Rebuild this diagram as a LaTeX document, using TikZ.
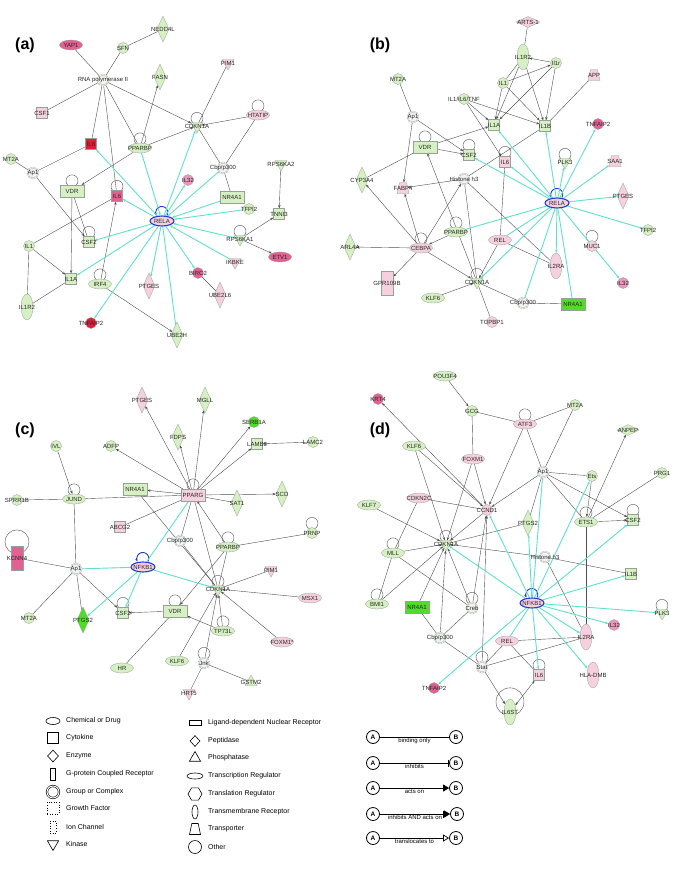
\documentclass[tikz,border=0pt]{standalone}
\usepackage{fontspec}
\setmainfont{Liberation Sans}
\usetikzlibrary{arrows.meta,shapes.geometric}
\pgfdeclarelayer{background}
\pgfsetlayers{background,main}
\definecolor{cvert}{RGB}{214,240,196}
\definecolor{cvif}{RGB}{80,220,40}
\definecolor{crose}{RGB}{246,208,222}
\definecolor{crosem}{RGB}{236,150,186}
\definecolor{crosef}{RGB}{228,96,146}
\definecolor{crouge}{RGB}{224,28,56}
\definecolor{cblanc}{RGB}{244,244,244}
\definecolor{cbleu}{RGB}{30,60,210}
\definecolor{ccyan}{RGB}{95,225,205}
\definecolor{cgris}{RGB}{80,80,80}
\definecolor{cbord}{RGB}{150,162,150}

\begin{document}
\begin{tikzpicture}[x=1pt, y=1pt, >={Stealth[length=3.2pt,width=2.4pt]},
  lbl/.style={font=\fontsize{6}{7}\selectfont, inner sep=0pt, text=black!85},
  lb/.style={label={[lbl]center:#1}},
  nd/.style={draw=cbord, line width=0.3pt, inner sep=0pt, fill=#1},
  tr/.style={nd=#1, ellipse, minimum width=23pt, minimum height=10pt},
  ot/.style={nd=#1, circle, minimum size=11pt},
  gp/.style={nd=cblanc, circle, minimum size=11pt, double=cblanc, double distance=0.7pt},
  cy/.style={nd=#1, rectangle, minimum size=11pt},
  lr/.style={nd=#1, rectangle, minimum width=24pt, minimum height=12pt},
  en/.style={nd=#1, diamond, minimum width=12pt, minimum height=26pt},
  ki/.style={nd=#1, regular polygon, regular polygon sides=3, shape border rotate=180, minimum size=14pt},
  ph/.style={nd=#1, regular polygon, regular polygon sides=3, minimum size=14pt},
  tm/.style={nd=#1, ellipse, minimum width=12pt, minimum height=26pt},
  gc/.style={nd=#1, rectangle, minimum width=12pt, minimum height=24pt},
  tp/.style={nd=#1, inner sep=1pt, trapezium, trapezium stretches=true, trapezium left angle=70, trapezium right angle=70, minimum width=12pt, minimum height=11pt},
  nk/.style={nd=crose, ellipse, draw=cbleu, line width=1.1pt, minimum width=24pt, minimum height=10pt},
  lnk/.style={cgris, line width=0.4pt},
  nf/.style={ccyan, line width=0.9pt},
  lp/.style={cgris, line width=0.4pt},
  lpb/.style={cbleu, line width=0.9pt, ->},
  pan/.style={font=\fontsize{16}{18}\selectfont\bfseries, inner sep=0pt},
  lgs/.style={draw=black, line width=0.6pt, inner sep=0pt, fill=white},
  lgt/.style={anchor=west, inner sep=0pt, font=\fontsize{7}{8}\selectfont},
  abn/.style={circle, draw=black, line width=0.8pt, minimum size=13pt, inner sep=0pt, fill=white, font=\fontsize{6.5}{7}\selectfont\bfseries},
  leg/.style={black, line width=0.7pt},
  lgl/.style={below=0.8pt, inner sep=0pt, font=\fontsize{6}{7}\selectfont}]
\useasboundingbox (0,0) rectangle (685,-876);

% (a)
\node[pan] (pa) at (25,-45) {(a)};
\node[tr=crosef, lb=YAP1] (aYAP1) at (71,-45) {};
\node[ot=cvert, lb=SFN] (aSFN) at (123,-48) {};
\node[en=cvert, lb=NEDD4L] (aNEDD) at (163,-29) {};
\node[gp, lb=RNA polymerase II] (aRNA) at (103,-80) {};
\node[en=cvert, lb=FASN] (aFASN) at (160,-77) {};
\node[ki=crose, lb=PIM1] (aPIM1) at (228,-63) {};
\node[cy=crose, lb=CSF1] (aCSF1) at (42,-113) {};
\node[tr=crose, lb=HTATIP] (aHTATIP) at (258,-115) {};
\node[ki=cvert, lb=CDKN1A] (aCDKN) at (197,-126) {};
\node[cy=crouge, lb=IL8] (aIL8) at (91,-144) {};
\node[tr=cvert, lb=PPARBP] (aPPARBP) at (140,-148) {};
\node[ot=cvert, lb=MT2A] (aMT2A) at (11,-159) {};
\node[gp, lb=Ap1] (aAp1) at (33,-173) {};
\node[gp, lb=Cbp/p300] (aCBP) at (223,-168) {};
\node[ki=cvert, lb=RPS6KA2] (aRPS6KA2) at (281,-164) {};
\node[lr=cvert, lb=VDR] (aVDR) at (72,-191) {};
\node[cy=crosef, lb=IL6] (aIL6) at (117,-196) {};
\node[ot=crosem, lb=IL32] (aIL32) at (188,-180) {};
\node[lr=cvert, lb=NR4A1] (aNR4A1) at (232,-197) {};
\node[ot=cvert, lb=TFPI2] (aTFPI2) at (249,-209) {};
\node[cy=cvert, lb=TNNI3] (aTNNI3) at (279,-214) {};
\node[nk, lb=RELA] (aRELA) at (162,-221) {};
\node[cy=cvert, lb=CSF2] (aCSF2) at (89,-242) {};
\node[ot=cvert, lb=IL1] (aIL1) at (29,-246) {};
\node[ki=cvert, lb=RPS6KA1] (aRPS6KA1) at (240,-239) {};
\node[tr=crosef, lb=ETV1] (aETV1) at (280,-257) {};
\node[ki=crose, lb=IKBKE] (aIKBKE) at (235,-262) {};
\node[cy=cvert, lb=IL1A] (aIL1A) at (71,-279) {};
\node[tr=cvert, lb=IRF4] (aIRF4) at (100,-284) {};
\node[en=crose, lb=PTGES] (aPTGES) at (149,-286) {};
\node[ot=crosef, lb=BIRC2] (aBIRC2) at (198,-273) {};
\node[en=crose, lb=UBE2L6] (aUBE2L6) at (220,-295) {};
\node[tm=cvert, lb=IL1R2] (aIL1R2) at (27,-307) {};
\node[ot=crouge, lb=TNFAIP2] (aTNFAIP2) at (91,-323) {};
\node[en=cvert, lb=UBE2H] (aUBE2H) at (177,-335) {};

% (b)
\node[pan] (pb) at (380,-45) {(b)};
\node[nd=crose, diamond, minimum width=24pt, minimum height=11pt, lb=ARTS-1] (bARTS) at (528,-22) {};
\node[tm=cvert, lb=IL1R2] (bIL1R2) at (523,-57) {};
\node[ot=cvert, lb=Il1r] (bIl1r) at (556,-63) {};
\node[tp=crose, lb=APP] (bAPP) at (594,-75) {};
\node[ot=cvert, lb=MT2A] (bMT2A) at (398,-79) {};
\node[ot=cvert, lb=IL1] (bIL1) at (503,-83) {};
\node[ot=cvert, lb=IL1/IL6/TNF] (bIL1TNF) at (464,-99) {};
\node[gp, lb=Ap1] (bAp1) at (413,-117) {};
\node[cy=cvert, lb=IL1A] (bIL1A) at (494,-125) {};
\node[cy=cvert, lb=IL1B] (bIL1B) at (545,-126) {};
\node[ot=crosef, lb=TNFAIP2] (bTNFAIP2) at (598,-124) {};
\node[lr=cvert, lb=VDR] (bVDR) at (425,-147) {};
\node[cy=cvert, lb=CSF2] (bCSF2) at (469,-155) {};
\node[cy=crose, lb=IL6] (bIL6) at (505,-162) {};
\node[ki=cvert, lb=PLK3] (bPLK3) at (565,-162) {};
\node[tp=crose, lb=SAA1] (bSAA1) at (615,-161) {};
\node[en=cvert, lb=CYP3A4] (bCYP3A4) at (362,-180) {};
\node[tp=crose, lb=FABP4] (bFABP4) at (403,-188) {};
\node[gp, lb=Histone h3] (bHIST) at (464,-179) {};
\node[nk, lb=RELA] (bRELA) at (557,-203) {};
\node[en=crose, lb=PTGES] (bPTGES) at (623,-196) {};
\node[tr=cvert, lb=PPARBP] (bPPARBP) at (456,-232) {};
\node[tr=crose, lb=CEBPA] (bCEBPA) at (421,-248) {};
\node[en=cvert, lb=ARL4A] (bARL4A) at (350,-247) {};
\node[tr=crose, lb=REL] (bREL) at (500,-240) {};
\node[ot=crose, lb=MUC1] (bMUC1) at (592,-246) {};
\node[ot=cvert, lb=TFPI2] (bTFPI2) at (648,-230) {};
\node[tm=crose, lb=IL2RA] (bIL2RA) at (556,-266) {};
\node[ot=crosem, lb=IL32] (bIL32) at (623,-283) {};
\node[gc=crose, lb=GPR109B] (bGPR) at (387,-283) {};
\node[ki=cvert, lb=CDKN1A] (bCDKN) at (477,-282) {};
\node[tr=cvert, lb=KLF6] (bKLF6) at (433,-298) {};
\node[gp, lb=Cbp/p300] (bCBP) at (523,-303) {};
\node[lr=cvif, lb=NR4A1] (bNR4A1) at (573,-304) {};
\node[ot=crose, lb=TOPBP1] (bTOPBP1) at (492,-322) {};

% (c)
\node[pan] (pc) at (25,-430) {(c)};
\node[en=crose, lb=PTGES] (cPTGES) at (142,-400) {};
\node[en=cvert, lb=MGLL] (cMGLL) at (205,-400) {};
\node[ot=cvif, lb=SERB1A] (cSERB) at (254,-422) {};
\node[en=cvert, lb=FDPS] (cFDPS) at (178,-437) {};
\node[cy=cvert, lb=LAMB3] (cLAMB3) at (257,-444) {};
\node[ot=cvert, lb=LAMC2] (cLAMC2) at (313,-442) {};
\node[ot=cvert, lb=IVL] (cIVL) at (56,-446) {};
\node[ot=cvert, lb=ADFP] (cADFP) at (111,-446) {};
\node[lr=cvert, lb=NR4A1] (cNR4A1) at (135,-489) {};
\node[lr=crose, lb=PPARG] (cPPARG) at (193,-495) {};
\node[en=cvert, lb=SAT1] (cSAT1) at (237,-503) {};
\node[en=cvert, lb=SCD] (cSCD) at (282,-494) {};
\node[ot=cvert, lb=SPRR1B] (cSPRR) at (17,-500) {};
\node[tr=cvert, lb=JUND] (cJUND) at (74,-499) {};
\node[cy=crose, lb=ABCG2] (cABCG2) at (120,-527) {};
\node[gp, lb=Cbp/p300] (cCBP) at (180,-541) {};
\node[tr=cvert, lb=PPARBP] (cPPARBP) at (228,-547) {};
\node[ot=cvert, lb=PRNP] (cPRNP) at (312,-533) {};
\node[gc=crosef, lb=KCNN4] (cKCNN4) at (17,-558) {};
\node[gp, lb=Ap1] (cAp1) at (76,-569) {};
\node[nk, lb=NFKB1] (cNFKB1) at (143,-567) {};
\node[ki=cvert, lb=CDKN1A] (cCDKN) at (218,-589) {};
\node[ki=crose, lb=PIM1] (cPIM1) at (271,-570) {};
\node[tr=crose, lb=MSX1] (cMSX1) at (310,-598) {};
\node[ot=cvert, lb=MT2A] (cMT2A) at (29,-618) {};
\node[en=cvif, lb=PTGS2] (cPTGS2) at (83,-620) {};
\node[cy=cvert, lb=CSF2] (cCSF2) at (123,-613) {};
\node[lr=cvert, lb=VDR] (cVDR) at (175,-611) {};
\node[tr=cvert, lb=TP73L] (cTP73L) at (223,-631) {};
\node[tr=crose, lb=FOXM1*] (cFOXM1) at (282,-642) {};
\node[tr=cvert, lb=HR] (cHR) at (122,-668) {};
\node[tr=cvert, lb=KLF6] (cKLF6) at (177,-661) {};
\node[gp, lb=Jnk] (cJnk) at (204,-663) {};
\node[ph=cvert, lb=GSTM2] (cGSTM2) at (251,-682) {};
\node[ki=crose, lb=HRT5] (cHRT5) at (189,-693) {};

% (d)
\node[pan] (pd) at (380,-430) {(d)};
\node[tr=cvert, lb=POU3F4] (dPOU3F4) at (445,-376) {};
\node[ot=crosef, lb=KRT4] (dKRT4) at (378,-399) {};
\node[ot=cvert, lb=GCG] (dGCG) at (472,-411) {};
\node[tr=crose, lb=ATF3] (dATF3) at (525,-424) {};
\node[ot=cvert, lb=MT2A] (dMT2A) at (575,-405) {};
\node[nd=cvert, diamond, minimum width=22pt, minimum height=11pt, lb=ANPEP] (dANPEP) at (628,-430) {};
\node[tr=cvert, lb=KLF6] (dKLF6) at (414,-446) {};
\node[tr=crose, lb=FOXM1] (dFOXM1) at (473,-459) {};
\node[gp, lb=Ap1] (dAp1) at (543,-472) {};
\node[ot=cvert, lb=Ets] (dEts) at (592,-476) {};
\node[ot=cvert, lb=PRG1] (dPRG1) at (662,-473) {};
\node[tr=crose, lb=CDKN2C] (dCDKN2C) at (419,-498) {};
\node[tr=cvert, lb=KLF7] (dKLF7) at (369,-505) {};
\node[ot=crose, lb=CCND1] (dCCND1) at (487,-510) {};
\node[en=cvert, lb=PTGS2] (dPTGS2) at (528,-523) {};
\node[tr=cvert, lb=ETS1] (dETS1) at (586,-522) {};
\node[cy=cvert, lb=CSF2] (dCSF2) at (633,-520) {};
\node[ki=cvert, lb=CDKN1A] (dCDKN) at (446,-544) {};
\node[tr=cvert, lb=MLL] (dMLL) at (393,-553) {};
\node[gp, lb=Histone h3] (dHIST) at (545,-557) {};
\node[cy=cvert, lb=IL1B] (dIL1B) at (631,-574) {};
\node[nk, lb=NFKB1] (dNFKB1) at (532,-603) {};
\node[tr=cvert, lb=BMI1] (dBMI1) at (377,-604) {};
\node[lr=cvif, lb=NR4A1] (dNR4A1) at (417,-607) {};
\node[gp, lb=Creb] (dCreb) at (472,-608) {};
\node[ki=cvert, lb=PLK3] (dPLK3) at (662,-613) {};
\node[ot=crosem, lb=IL32] (dIL32) at (614,-625) {};
\node[tm=crose, lb=IL2RA] (dIL2RA) at (586,-637) {};
\node[gp, lb=Cbp/p300] (dCBP) at (440,-638) {};
\node[tr=crose, lb=REL] (dREL) at (507,-641) {};
\node[gp, lb=Stat] (dStat) at (482,-667) {};
\node[cy=crose, lb=IL6] (dIL6) at (539,-675) {};
\node[tm=crose, lb=HLA-DMB] (dHLA) at (593,-675) {};
\node[ot=crosef, lb=TNFAIP2] (dTNFAIP2) at (434,-688) {};
\node[tm=cvert, lb=IL6ST] (dIL6ST) at (510,-712) {};

\begin{pgfonlayer}{background}
\fill[white] (0,0) rectangle (685,-876);
% self loops
\foreach \n in {aHTATIP,aCDKN,aPPARBP,aVDR,aIL6,aCSF2,aRPS6KA1,aIRF4,bVDR,bCSF2,bIL6,bPLK3,bPPARBP,bCEBPA,bMUC1,bCDKN,cPPARG,cJUND,cPPARBP,cPRNP,cCDKN,cCSF2,cVDR,cTP73L,cJnk,dATF3,dETS1,dCSF2,dCDKN,dMLL,dBMI1,dCreb,dPLK3,dStat,dIL6}
  \draw[lp] ([yshift=4pt]\n.north) circle (6pt);
\draw[lp] ([yshift=4pt]cKCNN4.north) circle (12pt);
\draw[lp] ([yshift=-3pt]dIL6ST.north) circle (14pt);
\foreach \n in {aRELA,bRELA,cNFKB1,dNFKB1}
  \draw[lpb] ([xshift=5pt]\n.north) arc[start angle=-30,end angle=210,radius=6pt];

% (a) links
\draw[lnk] (aRNA) edge (aYAP1) edge (aSFN) edge (aCSF1) edge (aIL8) edge (aPPARBP) edge (aIL6);
\draw[lnk,->] (aRNA) edge (aCDKN);
\draw[lnk] (aSFN) edge (aNEDD);
\draw[lnk,->] (aPPARBP) edge (aFASN) edge (aCDKN) edge (aVDR);
\draw[lnk] (aPIM1) edge (aCDKN);
\draw[lnk,->] (aHTATIP) edge (aCDKN);
\draw[lnk] (aCBP) edge (aHTATIP) edge (aCDKN) edge (aNR4A1);
\draw[lnk] (aAp1) edge (aIL8) edge (aMT2A);
\draw[lnk,->] (aAp1) edge (aCSF2);
\draw[lnk] (aVDR) edge (aCSF2);
\draw[lnk,->] (aVDR) edge (aIL1A);
\draw[lnk] (aIL1) edge (aIL6) edge (aIL1R2);
\draw[lnk,->] (aIL1) edge (aIL1A);
\draw[lnk] (aIL1R2) edge (aIL1A);
\draw[lnk,->] (aIRF4) edge (aIL6) edge (aUBE2H);
\draw[lnk,->] (aRPS6KA2) edge (aTNNI3);
\draw[lnk,->] (aRPS6KA1) edge (aTNNI3) edge (aETV1);
\draw[lnk] (aBIRC2) edge (aUBE2L6);
\draw[nf,->] (aRELA) edge (aIL8) edge (aIL6) edge (aCDKN) edge (aIL32) edge (aCSF2) edge (aIL1A) edge (aTNFAIP2) edge (aPTGES) edge (aBIRC2);
\draw[nf,<-] (aRELA) edge (aCBP) edge (aNR4A1) edge (aTFPI2) edge (aRPS6KA1) edge (aIKBKE) edge (aPPARBP);
\draw[nf] (aRELA) edge (aUBE2H);

% (b) links
\draw[lnk] (bIL1R2) edge (bARTS) edge (bIL1);
\draw[lnk,->] (bIl1r) edge (bIL1R2) edge (bIL1A) edge (bIL1B);
\draw[lnk,->] (bIL1R2) edge (bIL1A) edge (bIL1B);
\draw[lnk,->] (bIL1) edge (bIl1r) edge (bIL1A) edge (bIL1B);
\draw[lnk,->] (bIL1TNF) edge (bIL1A) edge (bIL1B) edge (bIL6);
\draw[lnk] (bAPP) edge (bIL1B);
\draw[lnk] (bMT2A) edge (bAp1);
\draw[lnk,->] (bAp1) edge (bCSF2) edge (bFABP4);
\draw[lnk,->] (bVDR) edge (bIL1A) edge (bCSF2);
\draw[lnk] (bVDR) edge (bCYP3A4);
\draw[lnk] (bIL1B) edge (bHIST);
\draw[lnk] (bHIST) edge (bCDKN) edge (bIL2RA);
\draw[lnk,->] (bHIST) edge (bFABP4);
\draw[lnk] (bIL6) edge (bREL);
\draw[lnk] (bREL) edge (bIL2RA);
\draw[lnk,->] (bREL) edge (bCDKN);
\draw[lnk,->] (bCDKN) edge (bVDR);
\draw[lnk] (bCDKN) edge (bCBP) edge (bTOPBP1);
\draw[lnk] (bCBP) edge (bNR4A1);
\draw[lnk,->] (bCEBPA) edge (bCYP3A4) edge (bFABP4) edge (bHIST) edge (bCDKN) edge (bGPR) edge (bARL4A);
\draw[lnk,->] (bPPARBP) edge (bCEBPA);
\draw[lnk,->] (bKLF6) edge (bCDKN);
\draw[nf,->] (bRELA) edge (bIL1A) edge (bIL1B) edge (bTNFAIP2) edge (bPLK3) edge (bSAA1) edge (bPTGES) edge (bIL6) edge (bCSF2) edge (bCDKN) edge (bIL2RA) edge (bIL32);
\draw[nf] (bRELA) edge (bPPARBP) edge (bTFPI2) edge (bCBP) edge (bNR4A1) edge (bREL);

% (c) links
\draw[lnk,->] (cPPARG) edge (cPTGES) edge (cMGLL) edge (cSERB) edge (cFDPS) edge (cLAMB3) edge (cADFP) edge (cNR4A1) edge (cSCD);
\draw[lnk] (cPPARG) edge (cSAT1) edge (cJUND) edge (cABCG2) edge (cCBP) edge (cCDKN);
\draw[lnk,->] (cLAMC2) edge (cLAMB3);
\draw[lnk,->] (cIVL) edge (cJUND);
\draw[lnk] (cJUND) edge (cSPRR) edge (cAp1);
\draw[lnk] (cCDKN) edge (cNR4A1) edge (cCBP) edge (cPIM1);
\draw[lnk,->] (cPPARBP) edge (cPPARG) edge (cVDR);
\draw[lnk] (cPPARBP) edge (cPRNP) edge (cCDKN);
\draw[lnk] (cAp1) edge (cKCNN4) edge (cMT2A) edge (cPTGS2);
\draw[lnk,->] (cAp1) edge (cCSF2);
\draw[lnk,->] (cVDR) edge (cCSF2);
\draw[lnk] (cVDR) edge (cHR);
\draw[lnk,->] (cTP73L) edge (cVDR);
\draw[lnk,<-] (cCDKN) edge (cMSX1) edge (cFOXM1) edge (cTP73L) edge (cKLF6) edge (cJnk);
\draw[lnk] (cJnk) edge (cGSTM2) edge (cHRT5);
\draw[nf] (cNFKB1) edge (cPPARG) edge (cAp1);
\draw[nf,->] (cNFKB1) edge (cCSF2) edge (cPTGS2) edge (cCDKN);

% (d) links
\draw[lnk,->] (dPOU3F4) edge (dGCG);
\draw[lnk] (dATF3) edge (dGCG) edge (dMT2A) edge (dAp1);
\draw[lnk] (dGCG) edge (dFOXM1);
\draw[lnk,->] (dATF3) edge (dCCND1);
\draw[lnk,->] (dCCND1) edge (dKRT4) edge (dCDKN);
\draw[lnk,->] (dKLF6) edge (dCCND1) edge (dCDKN);
\draw[lnk,->] (dFOXM1) edge (dCCND1) edge (dCDKN);
\draw[lnk] (dMT2A) edge (dAp1);
\draw[lnk,->] (dAp1) edge (dCCND1) edge (dCSF2);
\draw[lnk] (dAp1) edge (dEts) edge (dETS1) edge (dPTGS2);
\draw[lnk,->] (dEts) edge (dETS1);
\draw[lnk,->] (dETS1) edge (dANPEP) edge (dCSF2);
\draw[lnk] (dETS1) edge (dPRG1) edge (dIL2RA);
\draw[lnk] (dPTGS2) edge (dCDKN);
\draw[lnk] (dCDKN2C) edge (dCCND1) edge (dMLL);
\draw[lnk,->] (dKLF7) edge (dCDKN);
\draw[lnk,->] (dMLL) edge (dCDKN);
\draw[lnk,->] (dBMI1) edge (dCDKN);
\draw[lnk] (dBMI1) edge (dMLL);
\draw[lnk] (dMLL) edge (dCreb);
\draw[lnk,->] (dNR4A1) edge (dCDKN);
\draw[lnk] (dNR4A1) edge (dCBP);
\draw[lnk,->] (dCreb) edge (dCCND1) edge (dCDKN);
\draw[lnk] (dCreb) edge (dCBP);
\draw[lnk,->] (dCBP) edge (dCDKN);
\draw[lnk] (dCBP) edge (dStat);
\draw[lnk,->] (dStat) edge (dCCND1) edge (dIL6ST);
\draw[lnk] (dStat) edge (dREL) edge (dIL2RA);
\draw[lnk,->] (dHIST) edge (dCDKN);
\draw[lnk] (dHIST) edge (dIL1B) edge (dIL2RA);
\draw[lnk] (dREL) edge (dIL2RA) edge (dIL6);
\draw[lnk,<->] (dIL6) edge (dIL6ST);
\draw[nf,->] (dNFKB1) edge (dCCND1) edge (dCDKN) edge (dPTGS2) edge (dEts) edge (dCSF2) edge (dIL1B) edge (dPLK3) edge (dIL32) edge (dIL2RA) edge (dIL6) edge (dHLA) edge (dTNFAIP2);
\draw[nf] (dNFKB1) edge (dAp1) edge (dREL);
\end{pgfonlayer}

% legend, shapes
\node[lgs, ellipse, minimum width=14pt, minimum height=7pt] (sChem) at (53,-721) {};
\node[lgs, minimum size=11pt] (sCyto) at (53,-738) {};
\node[lgs, diamond, minimum width=11pt, minimum height=12pt] (sEnz) at (53,-756) {};
\node[lgs, minimum width=5pt, minimum height=12pt] (sGpcr) at (53,-774) {};
\node[lgs, circle, minimum size=12pt, double, double distance=1pt] (sGrp) at (53,-792) {};
\node[lgs, dotted, minimum size=12pt] (sGrow) at (53,-808) {};
\node[lgs, dotted, minimum width=6pt, minimum height=12pt] (sIon) at (53,-827) {};
\node[lgs, regular polygon, regular polygon sides=3, shape border rotate=180, minimum size=13pt] (sKin) at (53,-844) {};
\node[lgs, minimum width=12pt, minimum height=5pt] (sLig) at (195,-723) {};
\node[lgs, diamond, minimum width=10pt, minimum height=11pt] (sPep) at (195,-741) {};
\node[lgs, regular polygon, regular polygon sides=3, minimum size=13pt] (sPho) at (195,-758) {};
\node[lgs, ellipse, minimum width=16pt, minimum height=6pt] (sTrr) at (195,-776) {};
\node[lgs, regular polygon, regular polygon sides=6, minimum size=14pt] (sTrl) at (195,-794) {};
\node[lgs, ellipse, minimum width=6pt, minimum height=14pt] (sTmr) at (195,-812) {};
\node[lgs, inner sep=1pt, trapezium, trapezium stretches=true, trapezium left angle=70, trapezium right angle=70, minimum width=11pt, minimum height=11pt] (sTsp) at (195,-829) {};
\node[lgs, circle, minimum size=13pt] (sOth) at (195,-847) {};
% legend, texts
\node[lgt] (tChem) at (66,-721) {Chemical or Drug};
\node[lgt] (tCyto) at (66,-738) {Cytokine};
\node[lgt] (tEnz) at (66,-756) {Enzyme};
\node[lgt] (tGpcr) at (66,-774) {G-protein Coupled Receptor};
\node[lgt] (tGrp) at (66,-792) {Group or Complex};
\node[lgt] (tGrow) at (66,-808) {Growth Factor};
\node[lgt] (tIon) at (66,-827) {Ion Channel};
\node[lgt] (tKin) at (66,-844) {Kinase};
\node[lgt] (tLig) at (208,-723) {Ligand-dependent Nuclear Receptor};
\node[lgt] (tPep) at (208,-741) {Peptidase};
\node[lgt] (tPho) at (208,-758) {Phosphatase};
\node[lgt] (tTrr) at (208,-776) {Transcription Regulator};
\node[lgt] (tTrl) at (208,-794) {Translation Regulator};
\node[lgt] (tTmr) at (208,-812) {Transmembrane Receptor};
\node[lgt] (tTsp) at (208,-829) {Transporter};
\node[lgt] (tOth) at (208,-847) {Other};
% legend, relations
\node[abn] (eA1) at (373,-737) {A}; \node[abn] (eB1) at (456,-737) {B};
\node[abn] (eA2) at (373,-763) {A}; \node[abn] (eB2) at (456,-763) {B};
\node[abn] (eA3) at (373,-788) {A}; \node[abn] (eB3) at (456,-788) {B};
\node[abn] (eA4) at (373,-814) {A}; \node[abn] (eB4) at (457,-814) {B};
\node[abn] (eA5) at (373,-838) {A}; \node[abn] (eB5) at (456,-838) {B};
\draw[leg] (eA1) -- node[lgl] (r1) {binding only} (eB1);
\draw[leg,-{Bar[width=7pt]}] (eA2) -- node[lgl] (r2) {inhibits} (eB2);
\draw[leg,-{Triangle[length=6pt,width=7pt]}] (eA3) -- node[lgl] (r3) {acts on} (eB3);
\draw[leg,-{Bar[width=7pt] Triangle[length=6pt,width=7pt]}] (eA4) -- node[lgl] (r4) {inhibits AND acts on} (eB4);
\draw[leg,-{Triangle[open,length=6pt,width=7pt]}] (eA5) -- node[lgl] (r5) {translocates to} (eB5);
\end{tikzpicture}
\end{document}
